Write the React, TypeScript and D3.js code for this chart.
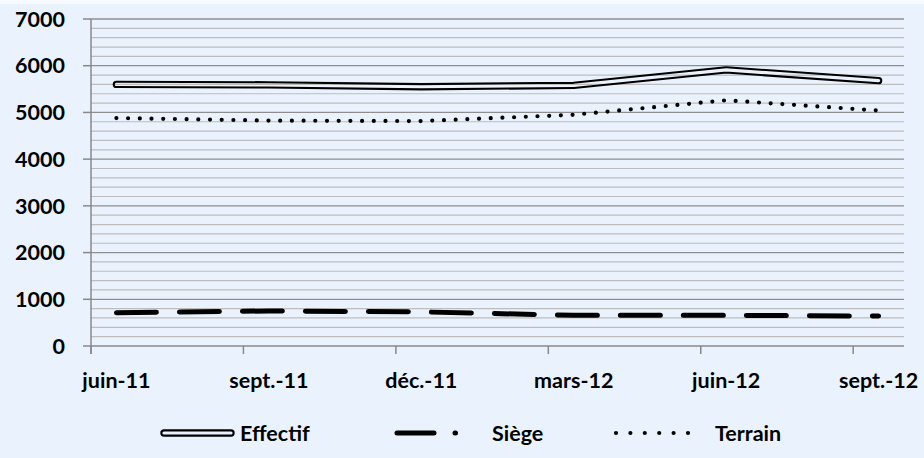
import React from "react";
import * as d3 from "d3";

const categories = ["juin-11", "sept.-11", "déc.-11", "mars-12", "juin-12", "sept.-12"];
const monthOffsets = [0, 3, 6, 9, 12, 15];
const effectif = [5600, 5590, 5550, 5580, 5910, 5680];
const siege = [712, 750, 730, 657, 657, 640];
const terrain = [4880, 4825, 4815, 4950, 5260, 5040];
const yTicks = [0, 1000, 2000, 3000, 4000, 5000, 6000, 7000];

const W = 924;
const H = 458;
const FONT = "Lato, 'Open Sans', sans-serif";

export default function App() {
  const x = d3.scaleLinear().domain([0, 16]).range([91, 904]);
  const y = d3.scaleLinear().domain([0, 7000]).range([346, 19]);
  const px = (i: number) => x(monthOffsets[i] + 0.5);
  const line = d3
    .line<number>()
    .x((_, i) => px(i))
    .y((v) => y(v));

  const minor = d3.range(200, 7000, 200).filter((v) => v % 1000 !== 0);
  const effPath = line(effectif) || "";

  const legY = 433;
  return (
    <div style={{ position: "fixed", left: 0, top: 0 }}>
      <svg width={W} height={H} style={{ display: "block" }}>
        <defs>
          <mask id="effMask" maskUnits="userSpaceOnUse" x={0} y={0} width={W} height={H}>
            <rect x={0} y={0} width={W} height={H} fill="white" />
            <path d={effPath} fill="none" stroke="black" strokeWidth={3.2} strokeLinecap="round" strokeLinejoin="round" />
            <line x1={164} x2={231} y1={legY} y2={legY} stroke="black" strokeWidth={3.2} strokeLinecap="round" />
          </mask>
        </defs>
        <rect x={0} y={0} width={W} height={H} fill="#EAF3FD" />
        <rect x={0} y={0} width={W} height={4} fill="#F7FAFE" />
        {/* minor gridlines */}
        {minor.map((v) => (
          <line key={"m" + v} x1={x(0)} x2={x(16)} y1={y(v)} y2={y(v)} stroke="#BDBDBD" strokeWidth={1.2} />
        ))}
        {/* major gridlines */}
        {yTicks.filter((v) => v > 0).map((v) => (
          <line key={"M" + v} x1={x(0)} x2={x(16)} y1={y(v)} y2={y(v)} stroke="#8E8E8E" strokeWidth={1.3} />
        ))}
        {/* axes */}
        <line x1={x(0)} x2={x(0)} y1={y(7000)} y2={y(0) + 8} stroke="#888" strokeWidth={1.5} />
        <line x1={x(0)} x2={x(16)} y1={y(0)} y2={y(0)} stroke="#888" strokeWidth={1.5} />
        {yTicks.map((v) => (
          <line key={"yt" + v} x1={x(0) - 8} x2={x(0)} y1={y(v)} y2={y(v)} stroke="#888" strokeWidth={1.5} />
        ))}
        {monthOffsets.map((m) => (
          <line key={"xt" + m} x1={x(m)} x2={x(m)} y1={y(0)} y2={y(0) + 8} stroke="#888" strokeWidth={1.5} />
        ))}
        {yTicks.map((v) => (
          <text key={"yl" + v} x={65} y={y(v)} dy="0.36em" textAnchor="end" fontFamily={FONT} fontWeight={700} fontSize={21.5} fill="#000">
            {v}
          </text>
        ))}
        {categories.map((c, i) => (
          <text key={c} x={px(i)} y={388} textAnchor="middle" fontFamily={FONT} fontWeight={700} fontSize={21.5} fill="#000">
            {c}
          </text>
        ))}
        {/* series */}
        <path d={effPath} fill="none" stroke="#000" strokeWidth={7.4} strokeLinecap="round" strokeLinejoin="round" mask="url(#effMask)" />
        <path d={line(terrain) || ""} fill="none" stroke="#000" strokeWidth={4.2} strokeLinecap="round" strokeDasharray="0 11.7" />
        <path d={line(siege) || ""} fill="none" stroke="#000" strokeWidth={5} strokeLinecap="round" strokeDasharray="40 23" />
        {/* legend */}
        <line x1={164} x2={231} y1={legY} y2={legY} stroke="#000" strokeWidth={7.4} strokeLinecap="round" mask="url(#effMask)" />
        <text x={240} y={legY} dy="0.36em" fontFamily={FONT} fontWeight={700} fontSize={21.5} fill="#000">Effectif</text>
        <line x1={397} x2={458} y1={legY} y2={legY} stroke="#000" strokeWidth={5} strokeLinecap="round" strokeDasharray="37 21 0.5 100" />
        <text x={492} y={legY} dy="0.36em" fontFamily={FONT} fontWeight={700} fontSize={21.5} fill="#000">Siège</text>
        <line x1={616} x2={688} y1={legY} y2={legY} stroke="#000" strokeWidth={4.2} strokeLinecap="round" strokeDasharray="0 14.4" />
        <text x={715} y={legY} dy="0.36em" fontFamily={FONT} fontWeight={700} fontSize={21.5} fill="#000">Terrain</text>
      </svg>
    </div>
  );
}
